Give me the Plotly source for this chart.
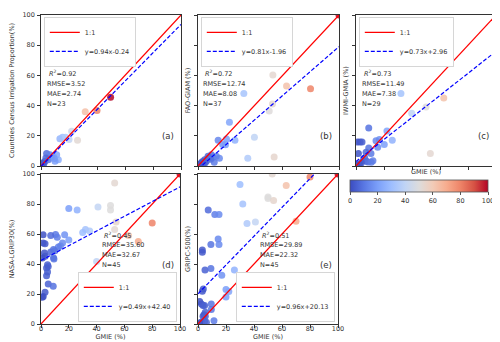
"""
GMIE vs. other irrigation products - five scatter panels (a)-(e)
"""
import plotly.graph_objects as go

W, H = 500, 342

# ---- data (x = GMIE %, y = reference product %) ----
a_gmie = [49.7, 40.0, 31.6, 26.1, 21.9, 13.5, 15.4, 17.6, 20.0, 4.0, 6.4, 8.8,
          11.2, 12.4, 10.0, 2.8, 1.2, 5.2, 0.5, 7.6, 3.5, 9.5, 2.0]
a_ref = [45.6, 36.7, 36.0, 17.0, 23.0, 18.1, 19.0, 19.0, 17.5, 8.2, 7.5, 6.4,
         7.5, 4.2, 3.1, 3.1, 2.0, 4.2, 0.9, 6.0, 5.3, 5.0, 1.5]

b_gmie = [100, 53.1, 62.8, 79.8, 52.8, 50.5, 32.5, 40.0, 35.3, 54.0,
          22.3, 14.3, 20.2, 17.5, 19.5, 26.2, 15.2, 11.5, 9.5, 7.1,
          4.7, 2.4, 5.9, 8.3, 10.7, 13.0, 3.6, 1.2, 0.5, 1.8,
          3.0, 4.2, 6.5, 7.5, 2.0, 5.0, 9.0]
b_ref = [100, 60.2, 52.9, 51.1, 41.1, 36.5, 48.0, 19.0, 5.1, 6.0,
         29.0, 17.0, 17.9, 14.2, 14.0, 17.0, 5.1, 2.5, 7.5, 6.4,
         4.2, 2.0, 3.1, 5.3, 5.8, 6.4, 1.3, 0.9, 0.3, 1.5,
         2.8, 3.0, 4.5, 5.5, 0.5, 2.0, 4.5]

c_gmie = [100, 62.7, 50.0, 39.8, 32.1, 53.1, 25.9, 22.1, 20.2, 16.7,
          14.3, 15.5, 9.1, 1.2, 2.9, 4.3, 1.7, 9.1, 7.2, 10.7,
          6.2, 5.0, 7.4, 8.6, 3.8, 2.4, 12.1, 10.9, 0.5]
c_ref = [90.0, 45.1, 39.0, 35.0, 48.0, 8.2, 17.0, 23.2, 14.2, 17.5,
         16.8, 12.5, 25.2, 15.9, 15.9, 15.9, 8.2, 11.9, 9.1, 8.2,
         5.3, 3.5, 3.1, 2.7, 2.0, 1.3, 3.5, 2.5, 0.5]

d_gmie = [53, 50, 50, 41, 26, 20, 54, 53, 80, 63,
          70, 40, 32, 35, 30, 20, 17, 15.5, 14, 12.5,
          10.5, 11.7, 7, 7, 9, 10, 9, 9.3, 1.5, 1.5,
          2.9, 2.5, 3, 1, 4.7, 5.2, 4, 4.7, 4, 5.2,
          8.8, 2.9, 1.6, 0.9, 100]
d_ref = [94, 79, 76, 78, 76, 77, 68, 63, 67.3, 59,
         55, 41.7, 63, 62, 61, 56, 59.5, 54, 52, 51.3,
         59.6, 57.8, 59, 48, 49.6, 48.9, 44.2, 43.3, 59.5, 54,
         53.5, 47.3, 45.1, 44, 39.5, 38.4, 37.3, 34.7, 32.2, 26.7,
         25.1, 21.1, 18.4, 17.8, 100]

e_gmie = [53, 80, 63, 50, 50, 54, 30, 32, 41, 35,
          70, 40, 26, 17, 20, 22, 20, 12, 15, 7.3,
          14.4, 15, 9.2, 3.1, 3.1, 5, 9.2, 3.8, 3.1, 1.2,
          2.4, 3.6, 4.7, 9.5, 9.5, 5.2, 4.3, 3.6, 5.2, 11.4,
          4.7, 2.4, 1.2, 6, 100]
e_ref = [100, 98, 92.4, 84.7, 83.6, 82.4, 93, 80, 68, 67,
         68.5, 31, 36, 32.5, 23, 21.6, 18, 73, 73, 76,
         56.7, 53, 53, 49.3, 47.8, 36, 37, 23.3, 21.8, 15,
         13.4, 12.4, 12.4, 13.4, 9.6, 7.8, 6.2, 5.1, 5.1, 2.2,
         1.8, 1.1, 0.7, 1.1, 100]

y_titles = ['Countries Census Irrigation Proportion(%)', 'FAO-GIAM (%)',
            'IWMI-GMIA (%)', 'NASA-LGRIP30(%)', 'GRIPC-500(%)']
tags = ['(a)', '(b)', '(c)', '(d)', '(e)']
fit_slope = [0.94, 0.81, 0.73, 0.49, 0.96]
fit_intercept = [-0.24, -1.96, 2.96, 42.40, 20.13]
r2 = [0.92, 0.72, 0.73, 0.45, 0.51]
rmse = [3.52, 12.74, 11.49, 35.60, 29.89]
mae = [2.74, 8.08, 7.38, 32.67, 22.32]
n_obs = [23, 37, 29, 45, 45]
ticks = [0, 20, 40, 60, 80, 100]

# matplotlib "coolwarm"
COOLWARM = [[0.0, '#3b4cc0'], [0.1, '#5977e3'], [0.2, '#7b9ff9'], [0.3, '#9ebeff'],
            [0.4, '#c0d4f5'], [0.5, '#dddcdc'], [0.6, '#f2cbb7'], [0.7, '#f7ac8e'],
            [0.8, '#ee8468'], [0.9, '#d65244'], [1.0, '#b40426']]

FS = 6.5
TXT = '#333333'


def px(x):
    return x / W


def py(y):
    return 1 - y / H


# panel boxes in pixels: (left, right, top, bottom); stats = first line (left, y)
panels = [
    dict(x=a_gmie, y=a_ref, box=(33, 173, 7, 158), legend='tl', stats=(37, 66), tag=(168, 128)),
    dict(x=b_gmie, y=b_ref, box=(190, 331, 7, 158), legend='tl', stats=(193, 66), tag=(326, 128)),
    dict(x=c_gmie, y=c_ref, box=(348, 488, 7, 158), legend='tl', stats=(352, 66), tag=(483, 128)),
    dict(x=d_gmie, y=d_ref, box=(33, 172, 166, 316), legend='br', stats=(92, 227), tag=(168, 257)),
    dict(x=e_gmie, y=e_ref, box=(190, 330, 166, 316), legend='br', stats=(250, 227), tag=(326, 257)),
]

fig = go.Figure()
layout = {}
annotations = []

for i, p in enumerate(panels):
    sfx = '' if i == 0 else str(i + 1)
    xa, ya, leg = 'x' + sfx, 'y' + sfx, 'legend' + sfx
    x0, x1, y0, y1 = p['box']

    fig.add_trace(go.Scatter(
        x=p['x'], y=p['y'], mode='markers', xaxis=xa, yaxis=ya, showlegend=False,
        marker=dict(size=7, color=p['x'], colorscale=COOLWARM, cmin=0, cmax=max(p['x']),
                    opacity=0.85, line_width=0, showscale=(i == 2),
                    colorbar=dict(orientation='h', x=px(411), xanchor='center',
                                  y=py(172), yanchor='top', len=138 / W, thickness=12,
                                  outlinewidth=0.8, outlinecolor='#555', tickvals=ticks,
                                  ticks='outside', ticklen=3, tickcolor='#555',
                                  tickfont=dict(size=FS, color=TXT), xpad=0, ypad=0)),
        hovertemplate='GMIE=%{x}<br>%{y}<extra></extra>'
    ))
    # 1:1 line over the axis range
    fig.add_trace(go.Scatter(
        x=[0, 100], y=[0, 100], mode='lines', name='1:1', xaxis=xa, yaxis=ya, legend=leg,
        line=dict(color='red', width=1.2)
    ))
    s, b = fit_slope[i], fit_intercept[i]
    fig.add_trace(go.Scatter(
        x=[0, 100], y=[b, s * 100 + b], mode='lines', name=f'y={s:.2f}x{b:+.2f}',
        xaxis=xa, yaxis=ya, legend=leg,
        line=dict(color='blue', width=1.2, dash='4px,2px')
    ))

    axis = dict(range=[0, 100], tickvals=ticks, showgrid=False, zeroline=False,
                showline=True, mirror=True, linecolor='#333', linewidth=0.8,
                ticks='outside', ticklen=3, tickwidth=0.8, tickcolor='#333',
                tickfont=dict(size=FS, color=TXT), automargin=False)
    xa_cfg = dict(axis, domain=[px(x0), px(x1)], anchor=ya, showticklabels=(i >= 3),
                  ticklabelstandoff=-5)
    if i >= 2:
        xa_cfg['title'] = dict(text='GMIE (%)', font=dict(size=FS, color=TXT), standoff=0)
    layout['xaxis' + sfx] = xa_cfg
    layout['yaxis' + sfx] = dict(
        axis, domain=[py(y1), py(y0)], anchor=xa, showticklabels=(i in (0, 3)),
        ticklabelstandoff=1,
        title=dict(text=y_titles[i], font=dict(size=FS, color=TXT),
                   standoff=9 if i in (0, 3) else 2))

    leg_cfg = dict(bgcolor='white', bordercolor='#cccccc', borderwidth=0.8,
                   font=dict(size=FS, color=TXT), itemwidth=30)
    if p['legend'] == 'tl':
        leg_cfg.update(x=px(x0 + 3), y=py(y0 + 2), xanchor='left', yanchor='top')
    else:
        leg_cfg.update(x=px(x1 - 3), y=py(y1 - 2), xanchor='right', yanchor='bottom')
    layout[leg] = leg_cfg

    sx, sy = p['stats']
    lines = [f' <i>R</i><sup>2</sup>={r2[i]:.2f}', f'RMSE={rmse[i]:.2f}',
             f'MAE={mae[i]:.2f}', f'N={n_obs[i]}']
    for k, t in enumerate(lines):
        annotations.append(dict(text=t, x=px(sx), y=py(sy + 10 * k), xref='paper', yref='paper',
                                xanchor='left', yanchor='middle', showarrow=False,
                                font=dict(size=FS, color=TXT)))
    tx, ty = p['tag']
    annotations.append(dict(text=tags[i], x=px(tx), y=py(ty), xref='paper', yref='paper',
                            xanchor='right', yanchor='middle', showarrow=False,
                            font=dict(size=8.5, color=TXT)))

fig.update_layout(
    width=W, height=H,
    margin=dict(l=0, r=0, t=0, b=0),
    paper_bgcolor='white', plot_bgcolor='white',
    font=dict(family='DejaVu Sans', size=FS, color=TXT),
    annotations=annotations,
    **layout
)

fig.write_html("out.html")
